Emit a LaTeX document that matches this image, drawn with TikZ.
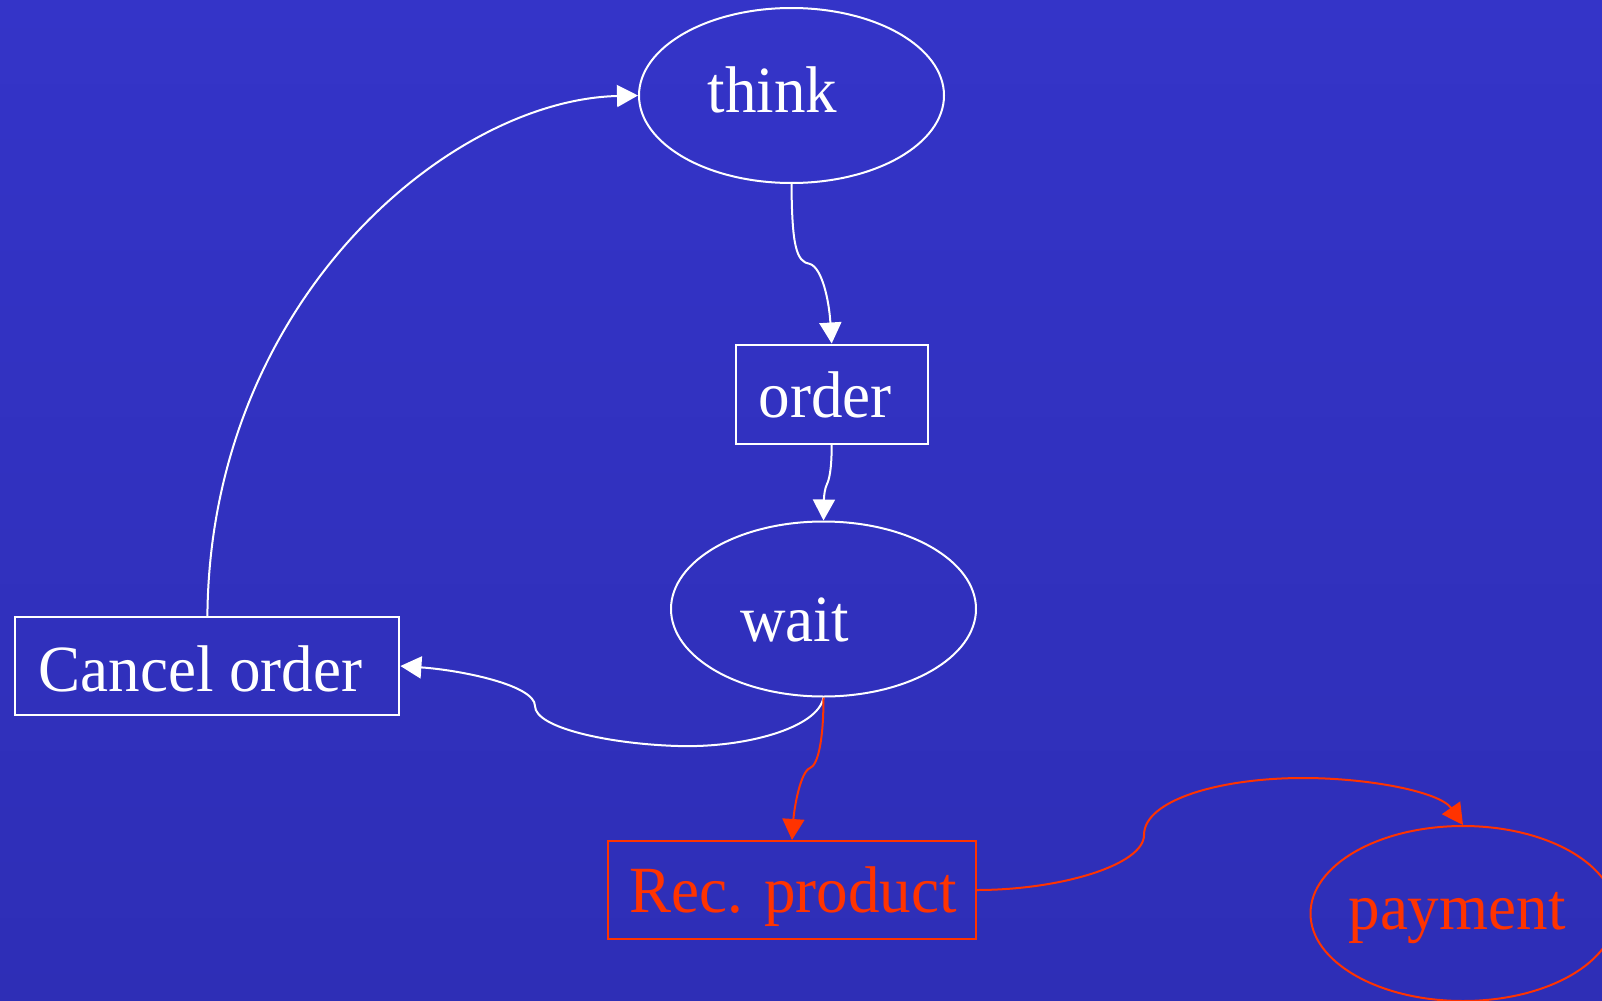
\documentclass[tikz,border=0pt]{standalone}
\usepackage{fontspec}
\setmainfont{Liberation Serif}
\usetikzlibrary{arrows.meta,shapes.geometric}
\definecolor{bgtop}{RGB}{52,52,200}
\definecolor{bgbot}{RGB}{46,46,182}
\definecolor{accent}{RGB}{255,51,0}
\tikzset{
  x=0.5pt, y=-0.5pt,
  state/.style={ellipse, draw, line width=1pt, minimum width=152.5pt, minimum height=87.5pt, inner sep=0pt},
  act/.style={rectangle, draw, line width=1pt, inner sep=0pt},
  lbl/.style={anchor=base, inner sep=0pt, font=\fontsize{33}{33}\selectfont},
  link/.style={line width=1pt, -{Triangle[length=10.5pt,width=11pt]}},
}
\newcommand\narrowtext[1]{\scalebox{0.955}[1]{#1}}
\begin{document}
\begin{tikzpicture}
  % background
  \useasboundingbox (0,0) rectangle (1602,1001);
  \shade[top color=bgtop, bottom color=bgbot] (0,0) rectangle (1602,1001);

  % states and activities
  \node[state, white] (think) at (791.5,95.5) {};
  \node[act, white, minimum width=96pt, minimum height=49.5pt] (order) at (831.7,394) {};
  \node[state, white] (wait) at (823.5,609) {};
  \node[act, white, minimum width=192pt, minimum height=49pt] (cancel) at (207.4,666) {};
  \node[act, accent, minimum width=184pt, minimum height=49pt] (rec) at (792,890) {};
  \node[state, accent] (payment) at (1463,913.5) {};

  % labels
  \node[lbl, text=white] (thinkl) at (772.5,112) {\narrowtext{think}};
  \node[lbl, text=white] (orderl) at (825,417) {\narrowtext{order}};
  \node[lbl, text=white] (waitl) at (794.5,641) {\narrowtext{wait}};
  \node[lbl, text=white] (cancell) at (200.5,691) {\narrowtext{Cancel order}};
  \node[lbl, text=accent] (recl) at (793,912.5) {\narrowtext{Rec. product}};
  \node[lbl, text=accent] (paymentl) at (1457,929) {\narrowtext{payment}};

  % transitions
  \draw[link, white] (think.south) .. controls (792,245) and (796,262) .. (810,264)
        .. controls (822,268) and (829,300) .. (order.north);
  \draw[link, white] (order.south) .. controls (831.7,470) and (829,480) .. (827,484)
        .. controls (825,488) and (824,495) .. (wait.north);
  \draw[link, white] (wait.south) .. controls (818,728) and (745,748) .. (678,746)
        .. controls (610,744) and (535,728) .. (535,706)
        .. controls (535,685) and (460,670) .. (cancel.east);
  \draw[link, white] (cancel.north) .. controls (210,300) and (450,100) .. (think.west);
  \draw[link, accent] (wait.south) .. controls (823.5,740) and (818,765) .. (810,768)
        .. controls (800,772) and (794,810) .. (rec.north);
  \draw[link, accent] (rec.east) .. controls (1060,890) and (1144,865) .. (1144,835)
        .. controls (1144,800) and (1220,778) .. (1303,778)
        .. controls (1370,778) and (1440,792) .. (payment.north);
\end{tikzpicture}
\end{document}
